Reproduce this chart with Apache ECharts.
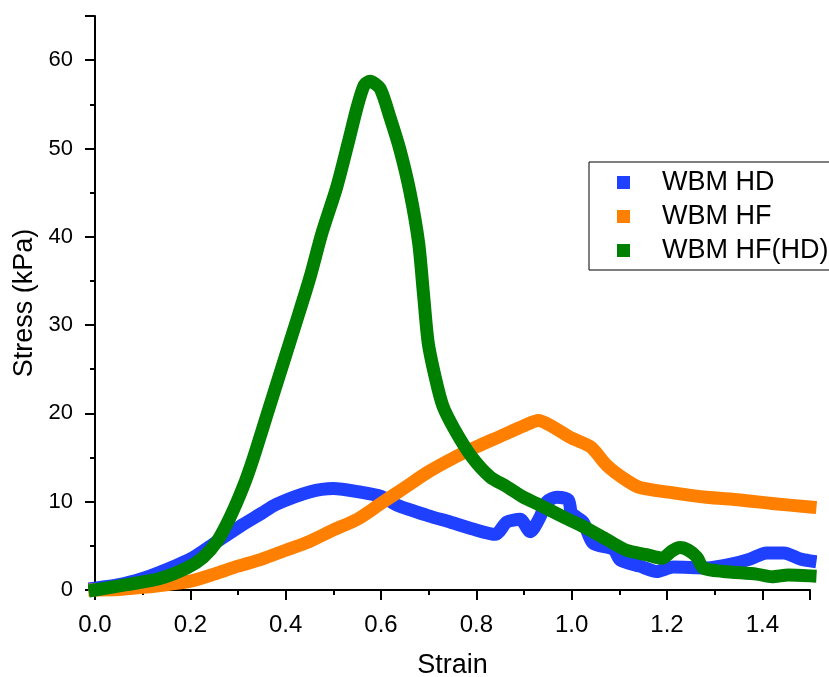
<!DOCTYPE html>
<html>
<head>
<meta charset="utf-8">
<script src="https://cdn.jsdelivr.net/npm/echarts@6/dist/echarts.min.js"></script>
<style>html,body{margin:0;padding:0;background:#fff}#c{width:829px;height:677px}</style>
</head>
<body>
<div id="c"></div>
<script>
var seriesNames = ['WBM HD', 'WBM HF', 'WBM HF(HD)'];
var strainHD = [0, 0.05, 0.1, 0.136, 0.2, 0.248, 0.304, 0.35, 0.38, 0.45, 0.5, 0.556, 0.6, 0.634, 0.7, 0.745, 0.793, 0.84, 0.864, 0.892, 0.913, 0.934, 0.948, 0.969, 0.993, 1.0, 1.024, 1.045, 1.088, 1.102, 1.143, 1.178, 1.213, 1.283, 1.332, 1.374, 1.409, 1.445, 1.48, 1.5];
var stressHD = [0.2, 0.6, 1.3, 2.0, 3.5, 5.2, 7.2, 8.7, 9.7, 11.1, 11.5, 11.1, 10.6, 9.6, 8.4, 7.7, 6.9, 6.3, 7.7, 8.0, 6.6, 8.3, 10.0, 10.5, 10.2, 8.7, 7.7, 5.3, 4.6, 3.4, 2.7, 2.1, 2.6, 2.5, 2.9, 3.5, 4.2, 4.2, 3.5, 3.3];
var strainHF = [0, 0.05, 0.1, 0.15, 0.2, 0.25, 0.3, 0.35, 0.4, 0.45, 0.5, 0.55, 0.6, 0.65, 0.7, 0.75, 0.8, 0.85, 0.9, 0.93, 0.96, 1.0, 1.04, 1.074, 1.11, 1.143, 1.213, 1.283, 1.353, 1.42, 1.5];
var stressHF = [0, 0.05, 0.3, 0.6, 1.0, 1.8, 2.7, 3.5, 4.5, 5.5, 6.8, 8.0, 9.8, 11.6, 13.4, 14.9, 16.2, 17.4, 18.6, 19.2, 18.5, 17.2, 16.2, 14.1, 12.6, 11.6, 11.0, 10.5, 10.2, 9.8, 9.4];
var strainHFHD = [0, 0.067, 0.136, 0.193, 0.227, 0.256, 0.283, 0.311, 0.332, 0.364, 0.392, 0.423, 0.451, 0.476, 0.507, 0.531, 0.55, 0.565, 0.577, 0.598, 0.619, 0.64, 0.661, 0.679, 0.689, 0.699, 0.715, 0.73, 0.755, 0.79, 0.829, 0.864, 0.899, 0.934, 0.989, 1.031, 1.074, 1.115, 1.157, 1.19, 1.21, 1.227, 1.245, 1.263, 1.276, 1.318, 1.388, 1.42, 1.455, 1.5];
var stressHFHD = [0, 0.6, 1.3, 2.5, 3.7, 5.5, 8.2, 11.7, 14.9, 20.4, 25.2, 30.5, 35.4, 40.4, 45.6, 50.6, 54.7, 57.2, 57.6, 56.8, 53.5, 49.8, 45.0, 39.3, 33.6, 28.0, 23.8, 20.8, 18.1, 15.1, 12.8, 11.7, 10.5, 9.6, 8.1, 7.0, 5.7, 4.5, 4.0, 3.6, 4.4, 4.8, 4.5, 3.7, 2.5, 2.1, 1.8, 1.5, 1.7, 1.6];
var colors = ['#2040FF', '#FF8000', '#008000'];

function zip(xs, ys) { return xs.map(function (x, i) { return [x, ys[i]]; }); }

var FONT = '"Liberation Sans", Arial, sans-serif';
var chart = echarts.init(document.getElementById('c'), null, { renderer: 'canvas' });
function mk(name, xs, ys, color) {
  return {
    name: name, type: 'line', data: zip(xs, ys), showSymbol: false, symbol: 'rect', symbolSize: 13,
    clip: false, smooth: 0.25, animation: false,
    itemStyle: { color: color },
    lineStyle: { color: color, width: 13, cap: 'square', join: 'round' }
  };
}
chart.setOption({
  animation: false,
  grid: { left: 95, right: 19, top: 16, bottom: 87, containLabel: false, outerBoundsMode: 'none' },
  legend: {
    orient: 'vertical', left: 589, top: 162,
    padding: [7, 60, 6, 28], itemGap: 7, itemWidth: 13, itemHeight: 13,
    borderColor: '#000', borderWidth: 1, icon: 'rect',
    data: seriesNames,
    textStyle: { fontFamily: FONT, fontSize: 27, color: '#000', lineHeight: 26, padding: [0, 0, 0, 27] }
  },
  xAxis: {
    type: 'value', min: 0, max: 1.5, interval: 0.2,
    name: 'Strain', nameLocation: 'middle', nameGap: 62,
    nameTextStyle: { fontFamily: FONT, fontSize: 27, color: '#000' },
    axisLine: { show: true, onZero: false, lineStyle: { color: '#000', width: 2 } },
    axisTick: { show: true, length: 10, lineStyle: { color: '#000', width: 2 } },
    minorTick: { show: true, splitNumber: 2, length: 5, lineStyle: { color: '#000', width: 2 } },
    splitLine: { show: false },
    axisLabel: { fontFamily: FONT, fontSize: 24, color: '#000', margin: 23, showMaxLabel: false,
      formatter: function (v) { return v.toFixed(1); } }
  },
  yAxis: {
    type: 'value', min: 0, max: 65, interval: 10,
    name: 'Stress (kPa)', nameLocation: 'middle', nameGap: 46,
    nameTextStyle: { fontFamily: FONT, fontSize: 27, color: '#000' },
    axisLine: { show: true, onZero: false, lineStyle: { color: '#000', width: 2 } },
    axisTick: { show: true, length: 10, lineStyle: { color: '#000', width: 2 } },
    minorTick: { show: true, splitNumber: 2, length: 5, lineStyle: { color: '#000', width: 2 } },
    splitLine: { show: false },
    axisLabel: { fontFamily: FONT, fontSize: 22, color: '#000', margin: 22, showMaxLabel: false }
  },
  series: [
    mk(seriesNames[0], strainHD, stressHD, colors[0]),
    mk(seriesNames[1], strainHF, stressHF, colors[1]),
    mk(seriesNames[2], strainHFHD, stressHFHD, colors[2])
  ]
});
</script>
</body>
</html>
